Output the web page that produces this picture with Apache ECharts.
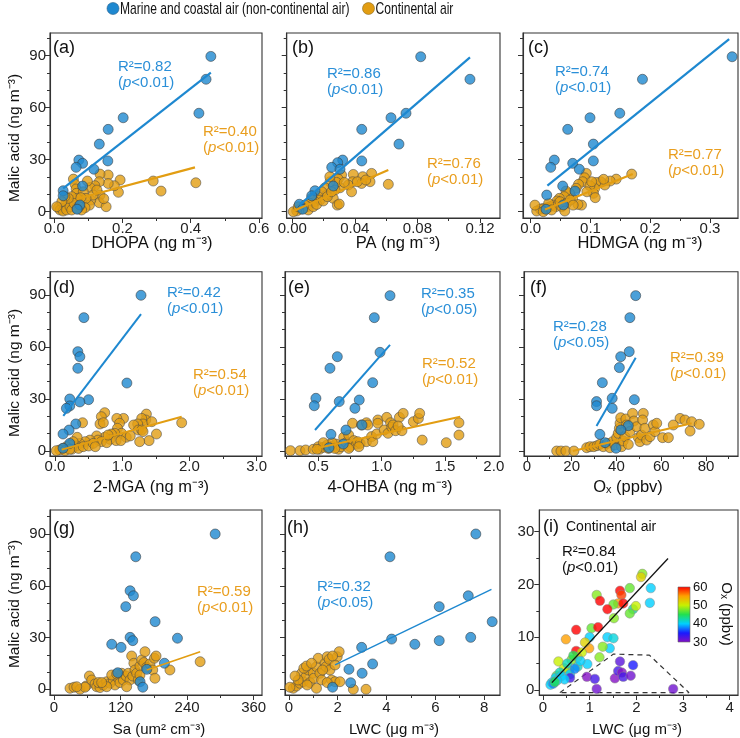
<!DOCTYPE html>
<html><head><meta charset="utf-8">
<script src="https://cdn.jsdelivr.net/npm/echarts@6/dist/echarts.min.js"></script>
<style>html,body{margin:0;padding:0;background:#fff}#c{width:740px;height:738px}</style>
</head><body><div id="c"></div>
<script>
// ---------------- DATA ----------------
const MARINE = 'Marine and coastal air (non-continental air)';
const CONT = 'Continental air';

// (a) DHOPA
const aMarine = [[0.459,89.6],[0.445,76.4],[0.424,56.8],[0.202,54.2],[0.158,47.5],[0.132,39],[0.157,29.3],[0.072,29.8],[0.083,27.9],[0.064,25.6],[0.116,24.5],[0.026,12.1],[0.026,9.2],[0.083,14.8],[0.075,3.9],[0.067,1.4]];
const aCont = [[0.415,16.7],[0.290,17.7],[0.313,11.9],[0.193,18.3],[0.188,11.2],[0.176,15],[0.158,21.2],[0.158,16.3],[0.134,21.7],[0.132,17.3],[0.134,9.6],[0.132,5.2],[0.119,15],[0.105,14],[0.097,17.7],[0.107,6.7],[0.114,9.6],[0.103,3.8],[0.075,5.4],[0.056,18.8],[0.061,15.8],[0.064,13.1],[0.065,10.6],[0.085,11.5],[0.093,7.7],[0.067,7.7],[0.051,8.7],[0.041,5.8],[0.031,3.8],[0.022,1.9],[0.012,2.3],[0.017,1],[0.026,0.4],[0.036,1],[0.046,2.9],[0.051,1],[0.058,4.8],[0.041,7.7],[0.031,8.7],[0.022,5.8],[0.007,2.9],[0.078,8.1],[0.090,2.3],[0.080,1],[0.073,2.9],[0.067,1.9],[0.152,2.9],[0.125,12.5],[0.145,7.5]];
const aFitMarine = [[0.026,13.5],[0.459,80.2]];
const aFitCont = [[0.065,7.3],[0.4125,25.6]];

// (b) PA
const bMarine = [[0.0821,89.4],[0.1136,76.4],[0.0444,47.5],[0.0631,54.2],[0.0727,56.8],[0.0682,39],[0.0322,29.8],[0.0444,29.3],[0.029,28.3],[0.0252,25.6],[0.0305,24.5],[0.0262,14.8],[0.0145,12.1],[0.0124,9.2],[0.0045,4.3],[0.0066,1.4]];
const bCont = [[0.0614,15.8],[0.0507,22.1],[0.0497,17.3],[0.045,20.2],[0.0443,16.3],[0.039,21.5],[0.0386,17.3],[0.0358,15.4],[0.0379,11.5],[0.0315,21.2],[0.0294,18.8],[0.0305,13.8],[0.0283,16.9],[0.0273,12.5],[0.0262,7.7],[0.0288,3.8],[0.03,4.4],[0.0241,17.3],[0.0209,13.8],[0.022,9.6],[0.0188,11.5],[0.0166,8.7],[0.0177,6.7],[0.0145,5.8],[0.0124,7.7],[0.0113,4.8],[0.0096,2.9],[0.0081,3.8],[0.007,1.9],[0.0049,1.5],[0.0028,0.4],[0.0006,0],[0.0038,2.9],[0.0102,1],[0.0134,2.9],[0.0156,4.2],[0.0198,6.2],[0.0224,8.7],[0.0251,11.5],[0.0332,16.9],[0.0416,17.3],[0.047,18.3],[0.024,20.2]];
const bFitMarine = [[0.0045,3.8],[0.1136,89]];
const bFitCont = [[0.0006,0.4],[0.0614,24]];

// (c) HDMGA
const cMarine = [[0.337,89.4],[0.187,76.4],[0.149,56.8],[0.0992,54.2],[0.0619,47.5],[0.1048,39],[0.0395,29.8],[0.1048,29.3],[0.0703,27.9],[0.0335,25.6],[0.0813,24.5],[0.0535,14.8],[0.0741,11.9],[0.0268,9.6],[0.0546,3.9],[0.0256,1.4]];
const cCont = [[0.169,21.7],[0.143,18.8],[0.133,17.7],[0.124,15.4],[0.117,17.3],[0.109,16.9],[0.107,13.5],[0.105,10.6],[0.108,8.1],[0.093,22.1],[0.09,19.6],[0.087,17.3],[0.08,15.8],[0.076,13.5],[0.085,3.8],[0.079,4.2],[0.07,7.7],[0.065,10.6],[0.059,11.9],[0.056,8.7],[0.048,7.7],[0.044,6.2],[0.038,3.8],[0.032,2.9],[0.027,2.3],[0.021,1.9],[0.016,1.5],[0.01,0.4],[0.007,3.8],[0.042,2.9],[0.049,5.8],[0.06,4.8],[0.066,6.7],[0.071,3.8],[0.052,2.9],[0.03,4.8],[0.099,15],[0.122,18.7],[0.102,17.3],[0.094,11.5],[0.021,0],[0.035,1],[0.057,0.4]];
const cFitMarine = [[0.0279,15],[0.332,99.6]];
const cFitCont = [[0.024,1.3],[0.1707,21.7]];

// (d) 2-MGA
const dMarine = [[1.28,89.8],[0.43,76.9],[0.34,57.3],[0.37,54.4],[0.34,47.7],[1.07,39.2],[0.22,30],[0.50,29.6],[0.37,28.3],[0.22,26],[0.17,24.6],[0.31,15.6],[0.21,12.1],[0.12,9.8],[0.22,4.4],[0.12,1.6]];
const dCont = [[1.885,16.3],[1.51,9.8],[1.40,6.0],[1.26,5.4],[1.36,21.3],[1.35,17.9],[1.29,18.8],[1.31,15.6],[1.44,16.9],[1.23,15.6],[1.17,15],[1.24,12.1],[1.29,12.1],[1.31,11.2],[1.02,18.8],[0.92,18.8],[0.96,16],[0.93,13.1],[0.99,10.2],[1.06,7.9],[0.89,10.2],[0.84,9.8],[0.82,6.7],[0.91,6],[0.98,6],[0.74,22.1],[0.69,19.8],[0.67,15.6],[0.72,16.3],[0.74,7.9],[0.62,8.7],[0.64,6.3],[0.69,5.4],[0.77,4.8],[0.52,6.3],[0.45,5.4],[0.37,4.4],[0.32,2.9],[0.41,16.3],[0.33,7.9],[0.27,5.4],[0.22,3.5],[0.17,2.5],[0.12,1.5],[0.07,0.6],[0.02,0.2],[0.15,0.2],[0.25,1],[0.35,1.5],[0.42,2.5],[0.5,2.9],[0.57,4.4],[0.6,2.5],[0.22,1],[1.12,8.7],[0.79,9.2]];
const dFitMarine = [[0.124,20.2],[1.28,78.9]];
const dFitCont = [[0.1,0.8],[1.885,19.8]];

// (e) 4-OHBA
const eMarine = [[1.066,89.6],[0.942,76.9],[0.650,54.4],[0.592,47.7],[0.987,56.9],[0.929,39.4],[0.481,30.4],[0.468,26.1],[0.665,28.5],[0.823,29.4],[0.789,24.6],[0.600,9.6],[0.718,12.1],[0.845,15],[0.697,4],[0.584,1.9]];
const eCont = [[0.28,0.2],[0.355,0.2],[0.40,0.6],[0.46,1],[0.5,2.5],[0.51,1],[0.54,2.1],[0.57,3.5],[0.58,1.5],[0.62,2.5],[0.64,4],[0.66,1],[0.68,2.5],[0.70,7.9],[0.72,4.8],[0.74,9.2],[0.75,2.5],[0.77,16],[0.78,6],[0.80,4],[0.81,5.4],[0.84,15],[0.83,4.4],[0.88,16.3],[0.89,15],[0.88,5.4],[0.92,8.3],[0.93,5.4],[0.96,9.8],[0.97,17.9],[0.97,16],[1.02,12.1],[1.04,19.4],[1.05,10.2],[1.07,16.3],[1.08,13.7],[1.09,15],[1.11,11.7],[1.14,19.4],[1.17,21.7],[1.16,11.7],[1.13,14.4],[1.25,16.9],[1.29,18.8],[1.30,21.7],[1.32,6.3],[1.51,4.8],[1.61,16.3],[1.61,9.2],[0.61,4.8],[0.63,1.5],[0.74,1.5],[0.82,2.5],[0.54,4.8],[0.49,1]];
const eFitMarine = [[0.474,12.1],[1.066,61.2]];
const eFitCont = [[0.45,1.0],[1.62,19.8]];

// (f) Ox
const fMarine = [[48.6,89.6],[46.0,76.9],[45.7,57.3],[41.9,54.4],[41.3,48.1],[33.7,39.4],[48.0,29.6],[38.1,30.4],[31.1,28.5],[31.1,26.1],[38.1,24.6],[45.3,14.6],[42.0,12.1],[32.6,9.6],[34.9,4.8],[39.8,1.6]];
const fCont = [[13.3,0],[15.2,0],[17.4,0],[21,0],[26.7,1.9],[28.2,2.5],[29.9,2.5],[31.4,3.1],[32.6,3.8],[34.1,2.5],[35.9,4.4],[37.1,1.9],[38.3,5.4],[39.3,3.5],[40.1,7.7],[40.8,10.2],[41.3,13.1],[41.6,16],[41.9,19.2],[42.3,2.5],[43,5.8],[43.8,8.3],[44.2,18.5],[44.5,15],[45.3,3.8],[46,11.2],[47.2,21.7],[47.8,17.3],[49,14],[49.8,7.7],[50.5,5.4],[51.2,9.2],[52,21.7],[51.7,17.9],[52.7,13.1],[53.5,6.3],[55,8.3],[56.5,15],[57.2,11.2],[58,16],[60.6,7.7],[63.2,7.7],[68.4,18.8],[70.6,17.9],[73.6,16.9],[77,15.4],[72.9,11.5],[65.4,15]];
const fFitMarine = [[31.1,14.4],[48.6,53.8]];
const fFitCont = [[20.5,0],[73.6,16]];

// (g) Sa
const gMarine = [[290.6,90],[147.4,76.8],[137.2,57.1],[143.2,54.2],[129.4,47.9],[182.3,39.2],[137.2,30.1],[222.6,29.6],[142,28.2],[104.1,26.1],[120.9,24.3],[199.1,15.1],[167.3,11.6],[115,9.6],[155.2,4.4],[160.1,1.2]];
const gCont = [[28.9,0.6],[36.1,1.2],[46.9,0],[57.8,1.9],[63.8,7.7],[68,5.4],[74,3.1],[77,1.5],[83,1],[80,3.9],[89,2.5],[95,4.4],[101,3.5],[107,5.4],[110,2.5],[116,6.4],[119,3.9],[122,9.3],[125,5.4],[130,7.7],[134,9.3],[137,5.4],[142,7.7],[140,19.3],[144,15.1],[146,11.2],[149,9.3],[152,5.4],[155,13.5],[158,17],[162,15.5],[164,21.8],[167,12.7],[173,14.7],[178,11.2],[181,18],[184,19.3],[182,6.4],[209,11.2],[263.5,16],[131,1.5],[104,8.3],[113,8.9],[95,1.5],[56,1.2],[86,3.9],[41,1.5],[155,8.3]];
const gFitCont = [[167.3,11.2],[263.5,21.8]];

// (h) LWC
const hMarine = [[7.66,90],[4.14,76.8],[7.35,54.2],[6.16,47.9],[8.33,39.2],[4.21,29.1],[2.98,24.3],[5.16,26.1],[6.16,28.2],[7.45,30.1],[3.43,14.7],[2.46,11.6],[3.0,9.3],[2.53,3.8],[1.79,1.2]];
const hCont = [[0.18,0.6],[0.31,1.9],[0.45,3.5],[0.59,4.4],[0.52,9.3],[0.7,7.3],[0.79,11.2],[0.86,3.9],[1.0,9.3],[1.02,6.4],[1.13,13.1],[1.2,18],[1.27,9.3],[1.34,5.4],[1.13,0.6],[1.48,15.1],[1.52,13.1],[1.57,18.9],[1.65,17.4],[1.68,11.2],[1.75,5.4],[1.89,4.4],[1.98,18.9],[2.06,21.8],[2.09,4.4],[1.89,14.1],[1.79,19.3],[2.64,0],[3.16,0],[0.04,1.2],[0.38,5.4],[0.25,7.7],[0.61,12.2],[0.72,13.5],[0.93,15.1],[1.38,11.2],[1.57,3.9],[0.75,2.5]];
const hFitMarine = [[1.89,14.1],[8.3,57.9]];

// (i) continental air: [LWC, malic acid, Ox]
const iCont = [[2.13,22.0,48],[2.10,21.4,52],[2.31,19.3,40],[1.86,19.3,47],[1.65,18.8,60],[1.68,18.0,58],[1.15,18.0,48],[1.22,16.9,60],[1.61,16.4,55],[1.51,16.2,47],[1.72,16.4,60],[2.29,16.5,40],[1.38,15.3,60],[1.93,15.3,43],[1.99,15.9,50],[1.86,14.5,47],[1.52,13.6,48],[1.04,11.7,47],[1.18,11.9,60],[0.71,11.4,60],[0.49,9.6,55],[1.0,10.0,40],[1.38,10.0,40],[1.51,9.8,41],[1.43,7.9,40],[0.99,7.9,55],[1.28,8.2,48],[0.71,7.4,60],[0.9,9.0,52],[0.83,7.1,50],[0.74,6.2,52],[1.21,6.2,48],[0.61,5.7,48],[0.33,5.4,50],[0.95,4.9,40],[0.56,3.8,47],[0.45,4.1,50],[0.74,4.4,42],[0.58,3.0,40],[0.58,2.3,33],[0.29,2.7,47],[0.27,2.3,40],[0.19,1.4,40],[0.16,1.0,40],[0.22,1.2,38],[0.36,3.3,42],[0.39,2.6,40],[0.46,2.0,40],[0.65,6.5,45],[0.8,5.5,40],[0.52,5.0,42],[0.68,4.0,38],[0.3,1.8,40],[0.25,1.5,45],[1.65,5.4,32],[1.93,4.7,35],[0.94,2.5,30],[1.11,2.1,33],[1.15,0.2,31],[1.54,2.2,30],[1.61,3.6,33],[1.69,3.3,30],[1.72,2.5,33],[1.88,2.7,31],[2.79,0.2,31]];
const iFit = [[0.19,1.4],[2.68,24.9]];
const iOutline = [[0.36,-0.5],[1.51,6.8],[2.28,6.6],[3.13,-0.5],[0.36,-0.5]];

// tick labels
const yTicksMain = [0,30,60,90];
const yTicksMinor = [10,20,40,50,70,80,100];

// ---------------- CHART ----------------
const BLUE = '#1E88D0', ORANGE = '#E29D12';
const BLUE_T = '#2A8FD8', ORANGE_T = '#E99E1E';
const FONT = "'Liberation Sans', Arial, sans-serif";
const AX = '#333';

const rowsY = [[-3.63,103.1],[-2.88,103.4],[-3.3,103.9]];
const panels = [
  {g:[50,33,212,185], row:0, x:[-0.0126,0.609], maj:[0,0.2,0.4,0.6], min:[0.1,0.3,0.5], dec:1, yl:true, m:aMarine, c:aCont, fm:aFitMarine, fc:aFitCont, lw:2.2, lm:3},
  {g:[286.7,33,213.3,185], row:0, x:[-0.00358,0.1328], maj:[0,0.04,0.08,0.12], min:[0.02,0.06,0.10], dec:2, m:bMarine, c:bCont, fm:bFitMarine, fc:bFitCont, lw:2.2, lm:3},
  {g:[523,33,215,185], row:0, x:[-0.0129,0.3468], maj:[0,0.1,0.2,0.3], min:[0.05,0.15,0.25], dec:1, m:cMarine, c:cCont, fm:cFitMarine, fc:cFitCont, lw:2.2, lm:3},
  {g:[50,271.7,212,184.3], row:1, x:[-0.074,3.08], maj:[0,1,2,3], min:[0.5,1.5,2.5], dec:1, yl:true, m:dMarine, c:dCont, fm:dFitMarine, fc:dFitCont, lw:2, lm:3},
  {g:[285,271.7,215,184.3], row:1, x:[0.237,1.934], maj:[0.5,1,1.5], lab:[0.5,1,1.5,1.885], min:[0.25,0.75,1.25,1.75], dec:1, m:eMarine, c:eCont, fm:eFitMarine, fc:eFitCont, lw:2, lm:3},
  {g:[524,271.7,214,184.3], row:1, x:[-1.3,94.3], maj:[0,20,40,60,80], min:[10,30,50,70,90], dec:0, m:fMarine, c:fCont, fm:fFitMarine, fc:fFitCont, lw:2, lm:3},
  {g:[50,510,212,185], row:2, x:[-7.2,375], maj:[0,120,240,360], min:[60,180,300], dec:0, yl:true, m:gMarine, c:gCont, fc:gFitCont, lw:1.6, lm:5},
  {g:[285,510,215,185], row:2, x:[-0.16,8.65], maj:[0,2,4,6,8], min:[1,3,5,7], dec:0, m:hMarine, c:hCont, fm:hFitMarine, lw:1.4, lm:5}
];

const option = {
  animation:false,
  backgroundColor:'#fff',
  textStyle:{fontFamily:FONT},
  grid:[], xAxis:[], yAxis:[], series:[], graphic:[],
  visualMap:[]
};

function fmt(dec){ return v => (v > 1.8 && v < 1.9) ? '2.0' : Number(v).toFixed(dec); }

function addAxes(gi, xr, yr, xMaj, xLab, xMin, xDec, yMaj, yMin, showYLab, labMargin, yLabMargin){
  const base = {type:'value', gridIndex:gi, splitLine:{show:false}};
  option.xAxis.push(Object.assign({}, base, {
    min:xr[0], max:xr[1], position:'bottom',
    axisLine:{show:true, onZero:false, lineStyle:{color:AX, width:1.1}},
    axisTick:{show:true, customValues:xMaj, length:5, lineStyle:{color:AX}},
    axisLabel:{show:true, customValues:xLab, formatter:fmt(xDec), fontSize:15, color:'#222', margin:labMargin, fontFamily:FONT}
  }));
  option.xAxis.push(Object.assign({}, base, {
    min:xr[0], max:xr[1], position:'bottom',
    axisLine:{show:false, onZero:false},
    axisTick:{show:true, customValues:xMin, length:3, lineStyle:{color:AX}},
    axisLabel:{show:false}
  }));
  option.yAxis.push(Object.assign({}, base, {
    min:yr[0], max:yr[1], position:'left',
    axisLine:{show:true, onZero:false, lineStyle:{color:AX, width:1.1}},
    axisTick:{show:true, customValues:yMaj, length:5, lineStyle:{color:AX}},
    axisLabel:{show:showYLab, customValues:yMaj, formatter:v=>String(Math.round(v)), fontSize:15, color:'#222', margin:yLabMargin, fontFamily:FONT}
  }));
  option.yAxis.push(Object.assign({}, base, {
    min:yr[0], max:yr[1], position:'left',
    axisLine:{show:false, onZero:false},
    axisTick:{show:true, customValues:yMin, length:3, lineStyle:{color:AX}},
    axisLabel:{show:false}
  }));
}

function gridOf(g){
  return {left:g[0], top:g[1], width:g[2], height:g[3], show:true, borderColor:AX, borderWidth:1.1, backgroundColor:'transparent'};
}

panels.forEach((p, gi) => {
  option.grid.push(gridOf(p.g));
  addAxes(gi, p.x, rowsY[p.row], p.maj, p.lab || p.maj, p.min, p.dec, yTicksMain, yTicksMinor, !!p.yl, p.lm, 4);
  const xi = gi*2, yi = gi*2;
  option.series.push({type:'scatter', name:CONT, xAxisIndex:xi, yAxisIndex:yi, data:p.c, symbolSize:10,
    itemStyle:{color:ORANGE, borderColor:'#4a4a4a', borderWidth:0.7}, z:2, silent:true});
  option.series.push({type:'scatter', name:MARINE, xAxisIndex:xi, yAxisIndex:yi, data:p.m, symbolSize:10,
    itemStyle:{color:BLUE, borderColor:'#3a3a3a', borderWidth:0.7}, z:3, silent:true});
  if (p.fm) option.series.push({type:'line', name:'fitM'+gi, xAxisIndex:xi, yAxisIndex:yi, data:p.fm, symbol:'none',
    lineStyle:{color:BLUE, width:p.lw}, z:4, silent:true});
  if (p.fc) option.series.push({type:'line', name:'fitC'+gi, xAxisIndex:xi, yAxisIndex:yi, data:p.fc, symbol:'none',
    lineStyle:{color:ORANGE, width:p.lw}, z:4, silent:true});
});

// panel (i)
const gi = panels.length;
option.grid.push(gridOf([539.3,510,198.7,185]));
addAxes(gi, [-0.08,4.18], [-0.95,34.1], [0,1,2,3,4], [0,1,2,3,4], [0.5,1.5,2.5,3.5], 0, [0,10,20,30], [5,15,25], true, 5, 5);
option.series.push({type:'line', name:'outline', xAxisIndex:gi*2, yAxisIndex:gi*2, data:iOutline, symbol:'none',
  lineStyle:{color:'#333', width:1.2, type:[5,4]}, z:2, silent:true});
const iScatterIndex = option.series.length;
option.series.push({type:'scatter', name:'iCont', xAxisIndex:gi*2, yAxisIndex:gi*2, data:iCont, symbolSize:9.5,
  itemStyle:{borderColor:'#888', borderWidth:0.6}, z:3, silent:true});
option.series.push({type:'line', name:'iFit', xAxisIndex:gi*2, yAxisIndex:gi*2, data:iFit, symbol:'none',
  lineStyle:{color:'#111', width:1.3}, z:4, silent:true});

const jet = ['#8410c4','#1a1aff','#00d0ff','#22e050','#c8f000','#ffa000','#ff0000'];
option.visualMap.push({type:'continuous', min:30, max:60, dimension:2, seriesIndex:iScatterIndex, show:false, inRange:{color:jet}});

// ---------------- TEXT ----------------
const G = option.graphic;
function txt(x, y, text, o){
  o = o || {};
  G.push({type:'text', x:x, y:y, rotation:o.rot||0, scaleX:o.sx||1, silent:true, z:100,
    style:Object.assign({text:text, fill:o.color||'#111', fontSize:o.size||15, fontFamily:FONT,
      textAlign:o.align||'left', textVerticalAlign:o.va||'middle', verticalAlign:o.va||'middle',
      lineHeight:o.lh||undefined}, o.rich?{rich:o.rich}:{})});
}
// legend (drawn as graphics, condensed text like the original)
G.push({type:'circle', silent:true, z:100, shape:{cx:113, cy:8.5, r:6}, style:{fill:BLUE, stroke:'#2a5f8a', lineWidth:0.6}});
txt(120, 9, MARINE, {size:17, sx:0.71});
G.push({type:'circle', silent:true, z:100, shape:{cx:368.5, cy:8.5, r:6}, style:{fill:ORANGE, stroke:'#8a6a20', lineWidth:0.6}});
txt(375.5, 9, CONT, {size:17, sx:0.71});

// panel letters
[[53,48,'(a)'],[292,48,'(b)'],[528,48,'(c)'],[53,288,'(d)'],[288,288,'(e)'],[530,288,'(f)'],[53,529,'(g)'],[287,528,'(h)'],[543,527,'(i)']]
  .forEach(l => txt(l[0], l[1], l[2], {size:18}));
txt(566, 527, 'Continental air', {size:14});

// R2 annotations
function r2(x, yTop, color, r, p){
  const rich = {i:{fontStyle:'italic', fill:color, fontSize:15, fontFamily:FONT, lineHeight:16},
                n:{fill:color, fontSize:15, fontFamily:FONT, lineHeight:16}};
  txt(x, yTop, '{n|R²=' + r + '}\n{n|(}{i|p}{n|<' + p + ')}', {color:color, va:'top', lh:16, rich:rich});
}
r2(118,59,BLUE_T,'0.82','0.01'); r2(203,124,ORANGE_T,'0.40','0.01');
r2(327,66,BLUE_T,'0.86','0.01'); r2(427,156,ORANGE_T,'0.76','0.01');
r2(555,64,BLUE_T,'0.74','0.01'); r2(668,147,ORANGE_T,'0.77','0.01');
r2(167,285,BLUE_T,'0.42','0.01'); r2(193,367,ORANGE_T,'0.54','0.01');
r2(421,286,BLUE_T,'0.35','0.05'); r2(422,356,ORANGE_T,'0.52','0.01');
r2(553,319,BLUE_T,'0.28','0.05'); r2(670,350,ORANGE_T,'0.39','0.01');
r2(197,584,ORANGE_T,'0.59','0.01');
r2(317,579,BLUE_T,'0.32','0.05');
r2(562,544,'#111','0.84','0.01');

// axis titles
const yTitle = 'Malic acid (ng m⁻³)';
[[15,138],[15,373],[15,604]].forEach(t => txt(t[0], t[1], yTitle, {align:'center', rot:Math.PI/2, size:15.5}));
[[152,243,'DHOPA (ng m⁻³)',16.5],[398,243,'PA (ng m⁻³)',16.5],[640,243,'HDMGA (ng m⁻³)',16.5],
 [151,487,'2-MGA (ng m⁻³)',16.5],[390,487,'4-OHBA (ng m⁻³)',16.5],[628,487,'Oₓ (ppbv)',16.5],
 [159,730,'Sa (um² cm⁻³)',15],[394,730,'LWC (μg m⁻³)',15],[637,730,'LWC (μg m⁻³)',15]]
  .forEach(t => txt(t[0], t[1], t[2], {align:'center', size:t[3]}));

// colour bar for Ox
G.push({type:'rect', silent:true, z:100, shape:{x:678, y:587, width:12, height:55},
  style:{fill:new echarts.graphic.LinearGradient(0,0,0,1, jet.slice().reverse().map((c,k,a)=>({offset:k/(a.length-1), color:c}))),
         stroke:'#666', lineWidth:0.6}});
[[60,587],[50,605.3],[40,623.6],[30,642]].forEach(t => txt(693, t[1], String(t[0]), {size:13}));
txt(726, 614, 'Oₓ (ppbv)', {align:'center', rot:-Math.PI/2});

const chart = echarts.init(document.getElementById('c'), null, {renderer:'canvas'});
chart.setOption(option);
</script>
</body></html>
